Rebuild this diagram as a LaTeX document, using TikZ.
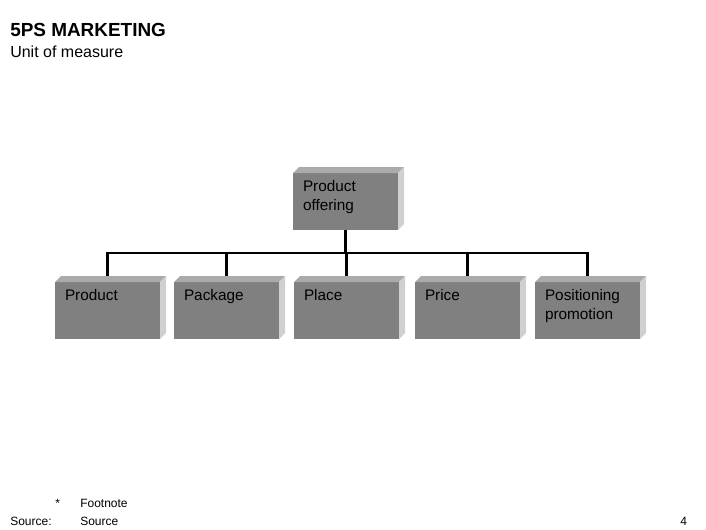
\documentclass[tikz,border=0pt]{standalone}
\usepackage{fontspec}
\setmainfont{Liberation Sans}
\usepackage{tikz}
\usetikzlibrary{calc,positioning}
\definecolor{facegray}{RGB}{128,128,128}
\definecolor{topgray}{RGB}{170,170,170}
\definecolor{sidegray}{RGB}{208,208,208}
\newcommand{\facetext}[1]{\parbox[c][42.75pt][t]{63.75pt}{\raggedright\rule{0pt}{13.9pt}#1}}
\tikzset{
  facebox/.style ={rectangle, fill=facegray, inner xsep=7.5pt, inner ysep=0pt, outer sep=0pt,
                   font=\fontsize{11.5}{14.25}\selectfont},
  tree/.style    ={line width=1.6pt, draw=black},
  txt/.style     ={anchor=base west, inner sep=0pt}
}
\begin{document}
\begin{tikzpicture}[x=0.75pt, y=-0.75pt]
\useasboundingbox (0,0) rectangle (706,529);
% titles
\node[txt, font=\fontsize{14.2}{16}\selectfont\bfseries] (title) at (10,36) {5PS MARKETING};
\node[txt, font=\fontsize{12}{14}\selectfont] (unit) at (10,57) {Unit of measure};
% boxes
\node[facebox] (offer) at (345.5,201.5) {\facetext{Product\\offering}};
\foreach \x/\n/\name in {107.5/prod/Product, 226.5/pack/Package, 346.5/place/Place,
                         467.5/price/Price, 587.5/posit/Positioning\\promotion}{
  \node[facebox] (\n) at (\x,310.5) {\facetext{\name}};
}
% 3d edges
\foreach \n in {offer,prod,pack,place,price,posit}{
  \fill[topgray] (\n.north west) -- ++(6,-6) -- ($(\n.north east)+(6,-6)$) -- (\n.north east) -- cycle;
  \fill[sidegray] (\n.north east) -- ++(6,-6) -- ($(\n.south east)+(6,-6)$) -- (\n.south east) -- cycle;
}
% connectors
\coordinate (bar) at ($(offer.south)+(0,23)$);
\draw[tree] (offer.south) -- (bar);
\draw[tree] ($(prod.north)+(0,-6)$) |- (bar) -| ($(posit.north)+(0,-6)$);
\foreach \n in {pack,place,price}{
  \draw[tree] (bar -| \n.north) -- ($(\n.north)+(0,-6)$);
}
% footer
\node[txt, font=\fontsize{9}{11}\selectfont] (star) at (55,507) {*};
\node[txt, font=\fontsize{9}{11}\selectfont] (fnote) at (80,507) {Footnote};
\node[txt, font=\fontsize{9}{11}\selectfont] (srclbl) at (10,525) {Source:};
\node[txt, font=\fontsize{9}{11}\selectfont] (src) at (80,525) {Source};
\node[txt, font=\fontsize{9}{11}\selectfont] (page) at (680,525) {4};
\end{tikzpicture}
\end{document}
